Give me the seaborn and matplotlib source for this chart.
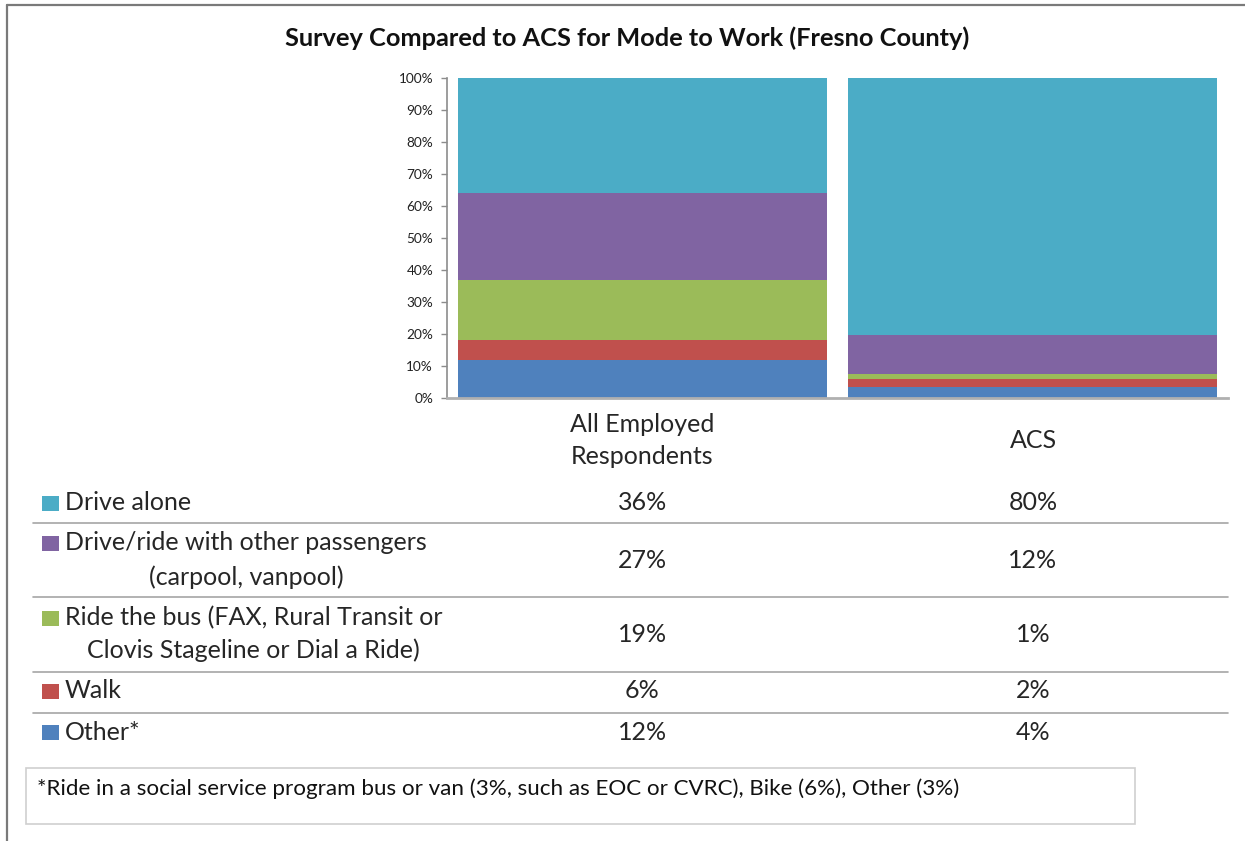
import numpy as np
import pandas as pd
import matplotlib
matplotlib.use("Agg")
import matplotlib.pyplot as plt
from matplotlib.patches import Rectangle
from matplotlib.lines import Line2D
import seaborn as sns

# ---------------- data ----------------
groups = ["All Employed\nRespondents", "ACS"]
modes = ["Drive alone", "Drive/ride with other passengers\n(carpool, vanpool)",
         "Ride the bus (FAX, Rural Transit or\nClovis Stageline or Dial a Ride)",
         "Walk", "Other*"]
# bar segment values (percent), ordered as modes
survey_vals = [36, 27, 19, 6, 12]
acs_vals = [80.3, 12.2, 1.6, 2.6, 3.3]
# table text as printed
survey_labels = ["36%", "27%", "19%", "6%", "12%"]
acs_labels = ["80%", "12%", "1%", "2%", "4%"]
colors = ["#4BACC6", "#8064A2", "#9BBB59", "#C0504D", "#4F81BD"]
title = "Survey Compared to ACS for Mode to Work (Fresno County)"
footnote = "*Ride in a social service program bus or van (3%, such as EOC or CVRC), Bike (6%), Other (3%)"
yticks = list(range(0, 101, 10))

# ---------------- style ----------------
sns.set_style("white")
plt.rcParams["font.family"] = ["Lato", "DejaVu Sans"]

W, H = 1245, 841
fig = plt.figure(figsize=(W / 100, H / 100), dpi=100)

def fx(x):
    return x / W

def fy(y):
    return 1 - y / H

# bars axes
ax = fig.add_axes([fx(447), fy(398), fx(1228) - fx(447), fy(78) - fy(398)])

df = pd.DataFrame({"group": np.repeat(groups, len(modes)),
                   "mode": modes * len(groups),
                   "value": survey_vals + acs_vals})
df["total"] = df.groupby("group")["value"].transform("sum")
df["pct"] = df["value"] / df["total"] * 100
# cumulative from the bottom (last mode at the bottom)
df["order"] = df["mode"].map({m: i for i, m in enumerate(modes)})
df = df.sort_values(["group", "order"], ascending=[True, False])
df["cum"] = df.groupby("group")["pct"].cumsum()

for m, c in zip(modes, colors):
    sub = df[df["mode"] == m].set_index("group").loc[groups].reset_index()
    sns.barplot(data=sub, x="group", y="cum", color=c, saturation=1,
                width=0.944, ax=ax, order=groups, edgecolor="none")

ax.set_xlim(-0.5, 1.5)
ax.set_ylim(0, 100)
ax.set_yticks(yticks)
ax.set_yticklabels([f"{t}%" for t in yticks], fontsize=9.8, color="#222222")
ax.set_xticks([])
ax.set_xlabel("")
ax.set_ylabel("")
for s in ["top", "right"]:
    ax.spines[s].set_visible(False)
ax.spines["left"].set_color("#8c8c8c")
ax.spines["left"].set_linewidth(1.2)
ax.spines["bottom"].set_color("#b0b0b0")
ax.spines["bottom"].set_linewidth(2)
ax.tick_params(axis="y", direction="out", length=4, width=1, color="#8c8c8c",
               pad=6, left=True)

# ---------------- title ----------------
fig.text(fx(627), fy(38), title, ha="center", va="center",
         fontsize=18.3, fontweight="bold", color="#111111")

# ---------------- frame lines ----------------
fig.add_artist(Line2D([fx(7), fx(1245)], [fy(5), fy(5)], color="#7a7a7a", lw=1.6))
fig.add_artist(Line2D([fx(7), fx(7)], [fy(5), fy(841)], color="#7a7a7a", lw=1.6))

# ---------------- data table ----------------
col_x = [642.5, 1033]
txt_size = 18
fig.text(fx(col_x[0]), fy(424), groups[0].split("\n")[0], ha="center", va="center", fontsize=txt_size)
fig.text(fx(col_x[0]), fy(456), groups[0].split("\n")[1], ha="center", va="center", fontsize=txt_size)
fig.text(fx(col_x[1]), fy(440), groups[1], ha="center", va="center", fontsize=txt_size)

row_line1 = [503, 543, 618, 691, 732]
row_line2 = [None, 577, 650, None, None]
row_val_y = [503, 561, 634, 691, 732]
sep_y = [523, 597, 672, 713]

fig.canvas.draw()
renderer = fig.canvas.get_renderer()
for i, m in enumerate(modes):
    lines = m.split("\n")
    t1 = fig.text(fx(65), fy(row_line1[i]), lines[0], ha="left", va="center",
                  fontsize=txt_size)
    if len(lines) > 1:
        bb = t1.get_window_extent(renderer=renderer)
        cx = (bb.x0 + bb.x1) / 2
        fig.text(cx / W, fy(row_line2[i]), lines[1], ha="center", va="center",
                 fontsize=txt_size)
    fig.add_artist(Rectangle((fx(42), fy(row_line1[i] + 7.5)), fx(17), 15 / H,
                             facecolor=colors[i], edgecolor="none"))
    fig.text(fx(col_x[0]), fy(row_val_y[i]), survey_labels[i], ha="center",
             va="center", fontsize=txt_size)
    fig.text(fx(col_x[1]), fy(row_val_y[i]), acs_labels[i], ha="center",
             va="center", fontsize=txt_size)

for y in sep_y:
    fig.add_artist(Line2D([fx(33), fx(1228)], [fy(y), fy(y)], color="#a6a6a6", lw=1.2))

# ---------------- footnote box ----------------
fig.add_artist(Rectangle((fx(26), fy(824)), fx(1135) - fx(26), (824 - 768) / H,
                         facecolor="none", edgecolor="#cfcfcf", lw=1.2))
fig.text(fx(37), fy(789), footnote, ha="left", va="center", fontsize=16.1,
         color="#111111")

fig.savefig("out.png", dpi=100)
